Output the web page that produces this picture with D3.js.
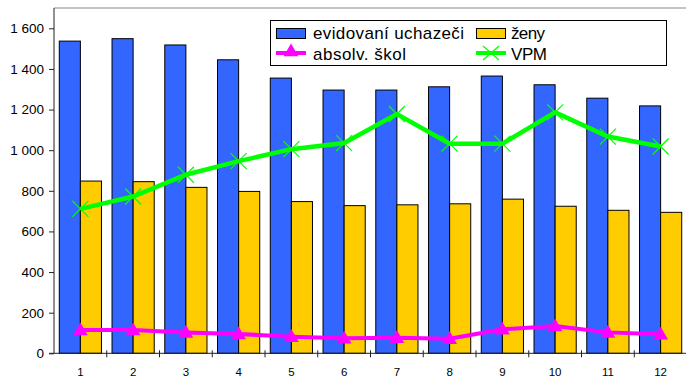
<!DOCTYPE html>
<html>
<head>
<meta charset="utf-8">
<script src="https://cdn.jsdelivr.net/npm/d3@7"></script>
<style>
html,body{margin:0;padding:0;background:#fff;}
svg{display:block;font-family:Arial,"Liberation Sans",sans-serif;}
</style>
</head>
<body>
<svg id="c" width="686" height="376"></svg>
<script>
const categories = ["1","2","3","4","5","6","7","8","9","10","11","12"];
const evidovani = [1537,1549,1518,1445,1355,1296,1296,1312,1365,1322,1256,1218];
const zeny = [848,845,817,797,747,727,731,736,759,724,704,694];
const absolv = [115,115,103,95,82,74,77,72,118,134,103,94];
const vpm = [711,772,879,946,1005,1035,1178,1032,1032,1186,1067,1018];
const yTicks = [0,200,400,600,800,1000,1200,1400,1600];
const seriesNames = ["evidovaní uchazeči","ženy","absolv. škol","VPM"];

const svg = d3.select("#c");
const L = 54, T = 8, R = 687, B = 353.3;

const x = d3.scaleBand().domain(categories).range([L, R]).paddingInner(0).paddingOuter(0);
const xi = d3.scaleBand().domain(["a","b"]).range([0, x.bandwidth()]).paddingInner(0).paddingOuter(0.25);
const y = d3.scaleLinear().domain([0,1700]).range([B, T]);
const fmt = v => d3.format(",")(v).replace(/,/g, " ");

// plot frame top line
svg.append("line").attr("x1", L).attr("x2", 686).attr("y1", T).attr("y2", T)
  .attr("stroke", "#888").attr("stroke-width", 1.2);

// bars
const g = svg.append("g");
const bw = xi.bandwidth();
g.selectAll("rect.b").data(evidovani).join("rect")
  .attr("x", (d,i) => x(categories[i]) + xi("a"))
  .attr("y", d => y(d)).attr("width", bw).attr("height", d => B - y(d))
  .attr("fill", "#3366FF").attr("stroke", "#000").attr("stroke-width", 1);
g.selectAll("rect.z").data(zeny).join("rect")
  .attr("x", (d,i) => x(categories[i]) + xi("b"))
  .attr("y", d => y(d)).attr("width", bw).attr("height", d => B - y(d))
  .attr("fill", "#FFCC00").attr("stroke", "#000").attr("stroke-width", 1);

// y axis
const yAxis = d3.axisLeft(y).tickValues(yTicks).tickSize(5).tickFormat(fmt);
const ya = svg.append("g").attr("transform", `translate(${L},0)`).call(yAxis);
ya.select(".domain").attr("d", `M0,${T}V${B}`).attr("stroke", "#222");
ya.selectAll(".tick line").attr("stroke", "#222");
ya.selectAll(".tick text").attr("font-size", 13.5).attr("fill", "#000").attr("x", -10)
  .attr("font-family", "Arial, 'Liberation Sans', sans-serif");

// x axis
const xa = svg.append("g");
xa.append("line").attr("x1", L - 5).attr("x2", 686).attr("y1", B).attr("y2", B).attr("stroke", "#222");
const bounds = categories.slice(1).map(c => x(c));
xa.selectAll("line.t").data(bounds).join("line")
  .attr("x1", d => d).attr("x2", d => d).attr("y1", B - 3).attr("y2", B + 4).attr("stroke", "#222");
xa.selectAll("text").data(categories).join("text")
  .attr("x", d => x(d) + x.bandwidth()/2).attr("y", 375.5)
  .attr("text-anchor", "middle").attr("font-size", 11.5).text(d => d);

const cx = i => x(categories[i]) + x.bandwidth()/2;

// absolv line
const lineA = d3.line().x((d,i) => cx(i)).y(d => y(d));
svg.append("path").attr("d", lineA(absolv)).attr("fill", "none")
  .attr("stroke", "#FF00FF").attr("stroke-width", 4);
const tri = d3.symbol().type(d3.symbolTriangle).size(95);
svg.selectAll("path.tri").data(absolv).join("path")
  .attr("transform", (d,i) => `translate(${cx(i)},${y(d)+1})`)
  .attr("d", tri()).attr("fill", "#FF00FF");

// VPM line
svg.append("path").attr("d", lineA(vpm)).attr("fill", "none")
  .attr("stroke", "#00FF00").attr("stroke-width", 4.5);
svg.selectAll("g.xm").data(vpm).join("g")
  .attr("transform", (d,i) => `translate(${cx(i)},${y(d)})`)
  .each(function(){
    const s = d3.select(this);
    s.append("line").attr("x1",-8).attr("y1",-8).attr("x2",8).attr("y2",8).attr("stroke","#00FF00").attr("stroke-width",1.2);
    s.append("line").attr("x1",-8).attr("y1",8).attr("x2",8).attr("y2",-8).attr("stroke","#00FF00").attr("stroke-width",1.2);
  });

// legend
const lg = svg.append("g");
lg.append("rect").attr("x", 270.5).attr("y", 20.5).attr("width", 396).attr("height", 45)
  .attr("fill", "#fff").attr("stroke", "#000").attr("stroke-width", 1);
lg.append("rect").attr("x", 276.5).attr("y", 28.5).attr("width", 29).attr("height", 10)
  .attr("fill", "#3366FF").attr("stroke", "#000");
lg.append("rect").attr("x", 476.5).attr("y", 28.5).attr("width", 29).attr("height", 10)
  .attr("fill", "#FFCC00").attr("stroke", "#000");
lg.append("line").attr("x1", 276).attr("x2", 306).attr("y1", 53).attr("y2", 53)
  .attr("stroke", "#FF00FF").attr("stroke-width", 4);
lg.append("path").attr("transform", "translate(291,52)").attr("d", tri()).attr("fill", "#FF00FF");
lg.append("line").attr("x1", 476).attr("x2", 506).attr("y1", 53).attr("y2", 53)
  .attr("stroke", "#00FF00").attr("stroke-width", 4);
lg.append("line").attr("x1", 483).attr("y1", 46).attr("x2", 499).attr("y2", 60).attr("stroke", "#00FF00").attr("stroke-width", 1.2);
lg.append("line").attr("x1", 483).attr("y1", 60).attr("x2", 499).attr("y2", 46).attr("stroke", "#00FF00").attr("stroke-width", 1.2);
const lt = [[313,39,seriesNames[0],151],[511,39,seriesNames[1],34],[313,60,seriesNames[2],93],[511,60,seriesNames[3],36]];
lg.selectAll("text").data(lt).join("text")
  .attr("x", d => d[0]).attr("y", d => d[1]).attr("font-size", 17)
  .attr("textLength", d => d[3]).attr("lengthAdjust", "spacing")
  .text(d => d[2]);
</script>
</body>
</html>
